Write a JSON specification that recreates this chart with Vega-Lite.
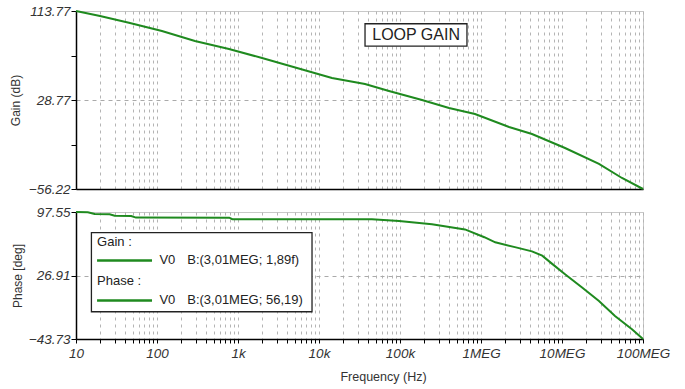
{
  "$schema": "https://vega.github.io/schema/vega-lite/v6.json",
  "background": "white",
  "padding": {"left": 8, "top": 3, "right": 5, "bottom": 5},
  "bounds": "flush",
  "spacing": 23,
  "config": {
    "view": {"stroke": "#c8c8c8", "strokeWidth": 1},
    "axis": {"labelFont": "Liberation Sans", "titleFont": "Liberation Sans", "labelColor": "#333", "titleColor": "#333", "titleFontWeight": "normal", "titleFontSize": 12, "labelFontSize": 13.5, "labelFontStyle": "italic", "labelFlush": false, "labelOverlap": false, "domainColor": "black", "domainWidth": 1.5, "tickColor": "black"},
    "text": {"font": "Liberation Sans"}
  },
  "datasets": {
    "gain": [
      {"f": 10, "v": 113.77}, {"f": 19.8, "v": 109.0}, {"f": 45, "v": 102.6}, {"f": 115, "v": 94.7},
      {"f": 294, "v": 85.1}, {"f": 774, "v": 77.5}, {"f": 1980, "v": 68.9}, {"f": 14460, "v": 49.8},
      {"f": 37000, "v": 44.0}, {"f": 73100, "v": 37.4}, {"f": 187000, "v": 28.8}, {"f": 403000, "v": 21.1},
      {"f": 843000, "v": 15.4}, {"f": 2220000, "v": 3.0}, {"f": 4260000, "v": -3.7}, {"f": 10900000, "v": -17.1},
      {"f": 28600000, "v": -32.3}, {"f": 55000000, "v": -45.7}, {"f": 100000000, "v": -56.22}
    ],
    "phase": [
      {"f": 10, "v": 97.55}, {"f": 14, "v": 97.3}, {"f": 17, "v": 95.3}, {"f": 26, "v": 95.0},
      {"f": 30, "v": 93.3}, {"f": 48, "v": 93.1}, {"f": 55, "v": 91.3}, {"f": 780, "v": 91.2},
      {"f": 850, "v": 89.6}, {"f": 45000, "v": 89.4}, {"f": 97200, "v": 87.5}, {"f": 248000, "v": 83.8},
      {"f": 634000, "v": 78.2}, {"f": 1100000, "v": 69.5}, {"f": 1500000, "v": 63.8}, {"f": 2700000, "v": 58.2},
      {"f": 4260000, "v": 53.8}, {"f": 5700000, "v": 49.0}, {"f": 7500000, "v": 40.1}, {"f": 10900000, "v": 28.4},
      {"f": 17700000, "v": 13.5}, {"f": 28600000, "v": -1.4}, {"f": 45100000, "v": -18.1}, {"f": 73100000, "v": -32.9},
      {"f": 100000000, "v": -43.73}
    ],
    "loopbox": [{"f": 37000, "f2": 671000, "v": 101.6, "v2": 80.3, "fc": 158000, "vc": 90.9, "label": "LOOP GAIN"}],
    "legbox": [{"f": 15.5, "f2": 8200, "v": 74.5, "v2": -13.4}],
    "leglines": [{"f": 18.2, "f2": 86.8, "v": 43.6}, {"f": 18.2, "f2": 86.8, "v": -0.9}],
    "legtext": [
      {"f": 18.2, "v": 64.2, "label": "Gain :"},
      {"f": 107, "v": 43.6, "label": "V0"},
      {"f": 236, "v": 43.6, "label": "B:(3,01MEG; 1,89f)"},
      {"f": 18.2, "v": 20.8, "label": "Phase :"},
      {"f": 107, "v": -0.9, "label": "V0"},
      {"f": 236, "v": -0.9, "label": "B:(3,01MEG; 56,19)"}
    ]
  },
  "vconcat": [
    {
      "width": 567,
      "height": 178,
      "layer": [
        {
          "data": {"name": "gain"},
          "mark": {"type": "line", "color": "#1f8a1f", "strokeWidth": 2},
          "encoding": {
            "x": {"field": "f", "type": "quantitative", "scale": {"type": "log", "domain": [10, 100000000], "nice": false},
              "axis": {"title": null, "labels": false, "ticks": false, "grid": true, "gridColor": "#b4b4b4", "gridDash": [3, 4],
                "values": [10,20,30,40,50,60,70,80,90,100,200,300,400,500,600,700,800,900,1000,2000,3000,4000,5000,6000,7000,8000,9000,10000,20000,30000,40000,50000,60000,70000,80000,90000,100000,200000,300000,400000,500000,600000,700000,800000,900000,1000000,2000000,3000000,4000000,5000000,6000000,7000000,8000000,9000000,10000000,20000000,30000000,40000000,50000000,60000000,70000000,80000000,90000000,100000000]}},
            "y": {"field": "v", "type": "quantitative", "scale": {"domain": [-56.22, 113.77], "nice": false, "zero": false},
              "axis": {"title": "Gain (dB)", "values": [-56.22, -13.725, 28.77, 71.27, 113.77],
                "labelExpr": "indexof([-56.22, 28.77, 113.77], datum.value) >= 0 ? format(datum.value, '.2f') : ''",
                "grid": true, "gridColor": "#aaaaaa", "gridDash": [4, 4],
                "gridOpacity": {"condition": {"test": "datum.value === 28.77", "value": 1}, "value": 0},
                "tickSize": 5, "labelPadding": 1, "titlePadding": 6}}
          }
        },
        {
          "data": {"name": "loopbox"},
          "mark": {"type": "rect", "fill": "white", "stroke": "#222", "strokeWidth": 1.3},
          "encoding": {
            "x": {"field": "f", "type": "quantitative"}, "x2": {"field": "f2"},
            "y": {"field": "v", "type": "quantitative"}, "y2": {"field": "v2"}
          }
        },
        {
          "data": {"name": "loopbox"},
          "mark": {"type": "text", "fontSize": 16, "color": "#222", "align": "center", "baseline": "middle"},
          "encoding": {
            "x": {"field": "fc", "type": "quantitative"},
            "y": {"field": "vc", "type": "quantitative"},
            "text": {"field": "label"}
          }
        }
      ]
    },
    {
      "width": 567,
      "height": 127,
      "layer": [
        {
          "data": {"name": "phase"},
          "mark": {"type": "line", "color": "#1f8a1f", "strokeWidth": 2},
          "encoding": {
            "x": {"field": "f", "type": "quantitative", "scale": {"type": "log", "domain": [10, 100000000], "nice": false},
              "axis": {"title": "Frequency (Hz)", "titleX": 307, "titlePadding": 11, "titleFontSize": 12.5, "grid": true, "gridColor": "#b4b4b4", "gridDash": [3, 4],
                "tickSize": 4, "labelPadding": 3,
                "labelExpr": "datum.value==10?'10':datum.value==100?'100':datum.value==1000?'1k':datum.value==10000?'10k':datum.value==100000?'100k':datum.value==1000000?'1MEG':datum.value==10000000?'10MEG':datum.value==100000000?'100MEG':''",
                "values": [10,20,30,40,50,60,70,80,90,100,200,300,400,500,600,700,800,900,1000,2000,3000,4000,5000,6000,7000,8000,9000,10000,20000,30000,40000,50000,60000,70000,80000,90000,100000,200000,300000,400000,500000,600000,700000,800000,900000,1000000,2000000,3000000,4000000,5000000,6000000,7000000,8000000,9000000,10000000,20000000,30000000,40000000,50000000,60000000,70000000,80000000,90000000,100000000]}},
            "y": {"field": "v", "type": "quantitative", "scale": {"domain": [-43.73, 97.55], "nice": false, "zero": false},
              "axis": {"title": "Phase [deg]", "values": [-43.73, -8.41, 26.91, 62.23, 97.55],
                "labelExpr": "indexof([-43.73, 26.91, 97.55], datum.value) >= 0 ? format(datum.value, '.2f') : ''",
                "grid": true, "gridColor": "#aaaaaa", "gridDash": [4, 4],
                "gridOpacity": {"condition": {"test": "datum.value === 26.91", "value": 1}, "value": 0},
                "tickSize": 5, "labelPadding": 1, "titlePadding": 4}}
          }
        },
        {
          "data": {"name": "legbox"},
          "mark": {"type": "rect", "fill": "white", "stroke": "#222", "strokeWidth": 1.3},
          "encoding": {
            "x": {"field": "f", "type": "quantitative"}, "x2": {"field": "f2"},
            "y": {"field": "v", "type": "quantitative"}, "y2": {"field": "v2"}
          }
        },
        {
          "data": {"name": "leglines"},
          "mark": {"type": "rule", "color": "#1f8a1f", "strokeWidth": 2.5},
          "encoding": {
            "x": {"field": "f", "type": "quantitative"}, "x2": {"field": "f2"},
            "y": {"field": "v", "type": "quantitative"}
          }
        },
        {
          "data": {"name": "legtext"},
          "mark": {"type": "text", "fontSize": 13, "color": "#222", "align": "left", "baseline": "middle"},
          "encoding": {
            "x": {"field": "f", "type": "quantitative"},
            "y": {"field": "v", "type": "quantitative"},
            "text": {"field": "label"}
          }
        }
      ]
    }
  ]
}
